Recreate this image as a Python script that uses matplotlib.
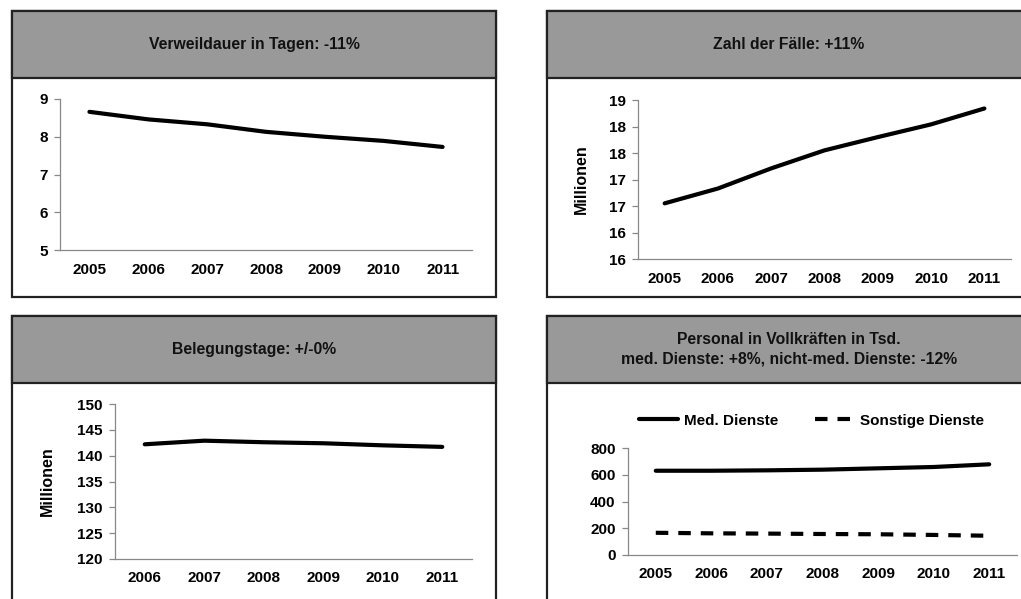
import matplotlib
matplotlib.use("Agg")
import matplotlib.pyplot as plt
from matplotlib.patches import Rectangle
from matplotlib.ticker import FuncFormatter

plt.rcParams["font.family"] = ["Liberation Sans", "DejaVu Sans"]
plt.rcParams["font.weight"] = "bold"
plt.rcParams["axes.labelweight"] = "bold"

# data
years = ["2005", "2006", "2007", "2008", "2009", "2010", "2011"]
verweildauer = [8.66, 8.46, 8.33, 8.13, 8.00, 7.89, 7.73]

faelle = [16.55, 16.83, 17.21, 17.55, 17.80, 18.04, 18.34]

years_beleg = ["2006", "2007", "2008", "2009", "2010", "2011"]
belegungstage = [142.2, 142.9, 142.6, 142.4, 142.0, 141.7]

med_dienste = [630, 630, 633, 638, 648, 658, 678]
sonstige_dienste = [166, 162, 160, 157, 155, 150, 144]

titles = [
    "Verweildauer in Tagen: -11%",
    "Zahl der Fälle: +11%",
    "Belegungstage: +/-0%",
    "Personal in Vollkräften in Tsd.\nmed. Dienste: +8%, nicht-med. Dienste: -12%",
]

W, H = 1021, 599
fig = plt.figure(figsize=(W / 100, H / 100), dpi=100)


def fbox(x0, y0, x1, y1):
    # pixel box (top-left origin) -> figure fraction rect
    return [x0 / W, 1 - y1 / H, (x1 - x0) / W, (y1 - y0) / H]


def panel(x0, y0, x1, y1, hdr, title, tx):
    r = fbox(x0, y0, x1, y1)
    fig.patches.append(Rectangle((r[0], r[1]), r[2], r[3], transform=fig.transFigure,
                                 facecolor="white", edgecolor="#222222", lw=1.6, zorder=-2))
    h = fbox(x0, y0, x1, hdr)
    fig.patches.append(Rectangle((h[0], h[1]), h[2], h[3], transform=fig.transFigure,
                                 facecolor="#999999", edgecolor="#222222", lw=1.6, zorder=-1))
    fig.text(tx / W, 1 - (y0 + hdr) / 2 / H, title, ha="center", va="center",
             fontsize=11.3, color="#111111", linespacing=1.35)


def style(ax, n):
    ax.set_facecolor("none")
    ax.set_xlim(0, n)
    ax.set_xticks([i + 0.5 for i in range(n)])
    for s in ["top", "right"]:
        ax.spines[s].set_visible(False)
    for s in ["left", "bottom"]:
        ax.spines[s].set_color("#888888")
        ax.spines[s].set_linewidth(0.9)
    ax.tick_params(axis="x", length=0, pad=9, labelsize=11)
    ax.tick_params(axis="y", length=4, width=0.9, color="#888888", labelsize=11, pad=5)


panel(12, 11, 496, 297, 78, titles[0], 254)
panel(547, 11, 1030, 297, 78, titles[1], 789)
panel(12, 316, 496, 610, 383, titles[2], 254)
panel(547, 316, 1030, 610, 383, titles[3], 789)

# Verweildauer
ax1 = fig.add_axes(fbox(60, 99, 472, 250))
ax1.plot([i + 0.5 for i in range(len(years))], verweildauer, color="black", lw=3,
         solid_capstyle="round")
style(ax1, len(years))
ax1.set_xticklabels(years)
ax1.set_ylim(5, 9)
ax1.set_yticks([5, 6, 7, 8, 9])

# Zahl der Faelle
ax2 = fig.add_axes(fbox(638, 100, 1011, 259))
ax2.plot([i + 0.5 for i in range(len(years))], faelle, color="black", lw=3,
         solid_capstyle="round")
style(ax2, len(years))
ax2.set_xticklabels(years)
ax2.set_ylim(15.5, 18.5)
ax2.set_yticks([15.5, 16, 16.5, 17, 17.5, 18, 18.5])
ax2.yaxis.set_major_formatter(FuncFormatter(lambda v, p: str(int(v + 0.5))))
ax2.set_ylabel("Millionen", fontsize=11.5, labelpad=14)

# Belegungstage
ax3 = fig.add_axes(fbox(115, 404, 472, 559))
ax3.plot([i + 0.5 for i in range(len(years_beleg))], belegungstage, color="black", lw=3,
         solid_capstyle="round")
style(ax3, len(years_beleg))
ax3.set_xticklabels(years_beleg)
ax3.set_ylim(120, 150)
ax3.set_yticks(range(120, 151, 5))
ax3.set_ylabel("Millionen", fontsize=11.5, labelpad=16)

# Personal
ax4 = fig.add_axes(fbox(628, 448, 1017, 555))
x4 = [i + 0.5 for i in range(len(years))]
ax4.plot(x4, med_dienste, color="black", lw=3, solid_capstyle="round", label="Med. Dienste")
ax4.plot(x4, sonstige_dienste, color="black", lw=3, dashes=(3.0, 2.4), label="Sonstige Dienste")
style(ax4, len(years))
ax4.set_xticklabels(years)
ax4.set_ylim(0, 800)
ax4.set_yticks(range(0, 801, 200))
ax4.legend(loc="center left", bbox_to_anchor=(0.028, 1.255), ncol=2, frameon=False,
           fontsize=11, handlelength=2.55, handletextpad=0.4, columnspacing=2.4,
           borderaxespad=0, borderpad=0)

fig.savefig("out.png", dpi=100)
